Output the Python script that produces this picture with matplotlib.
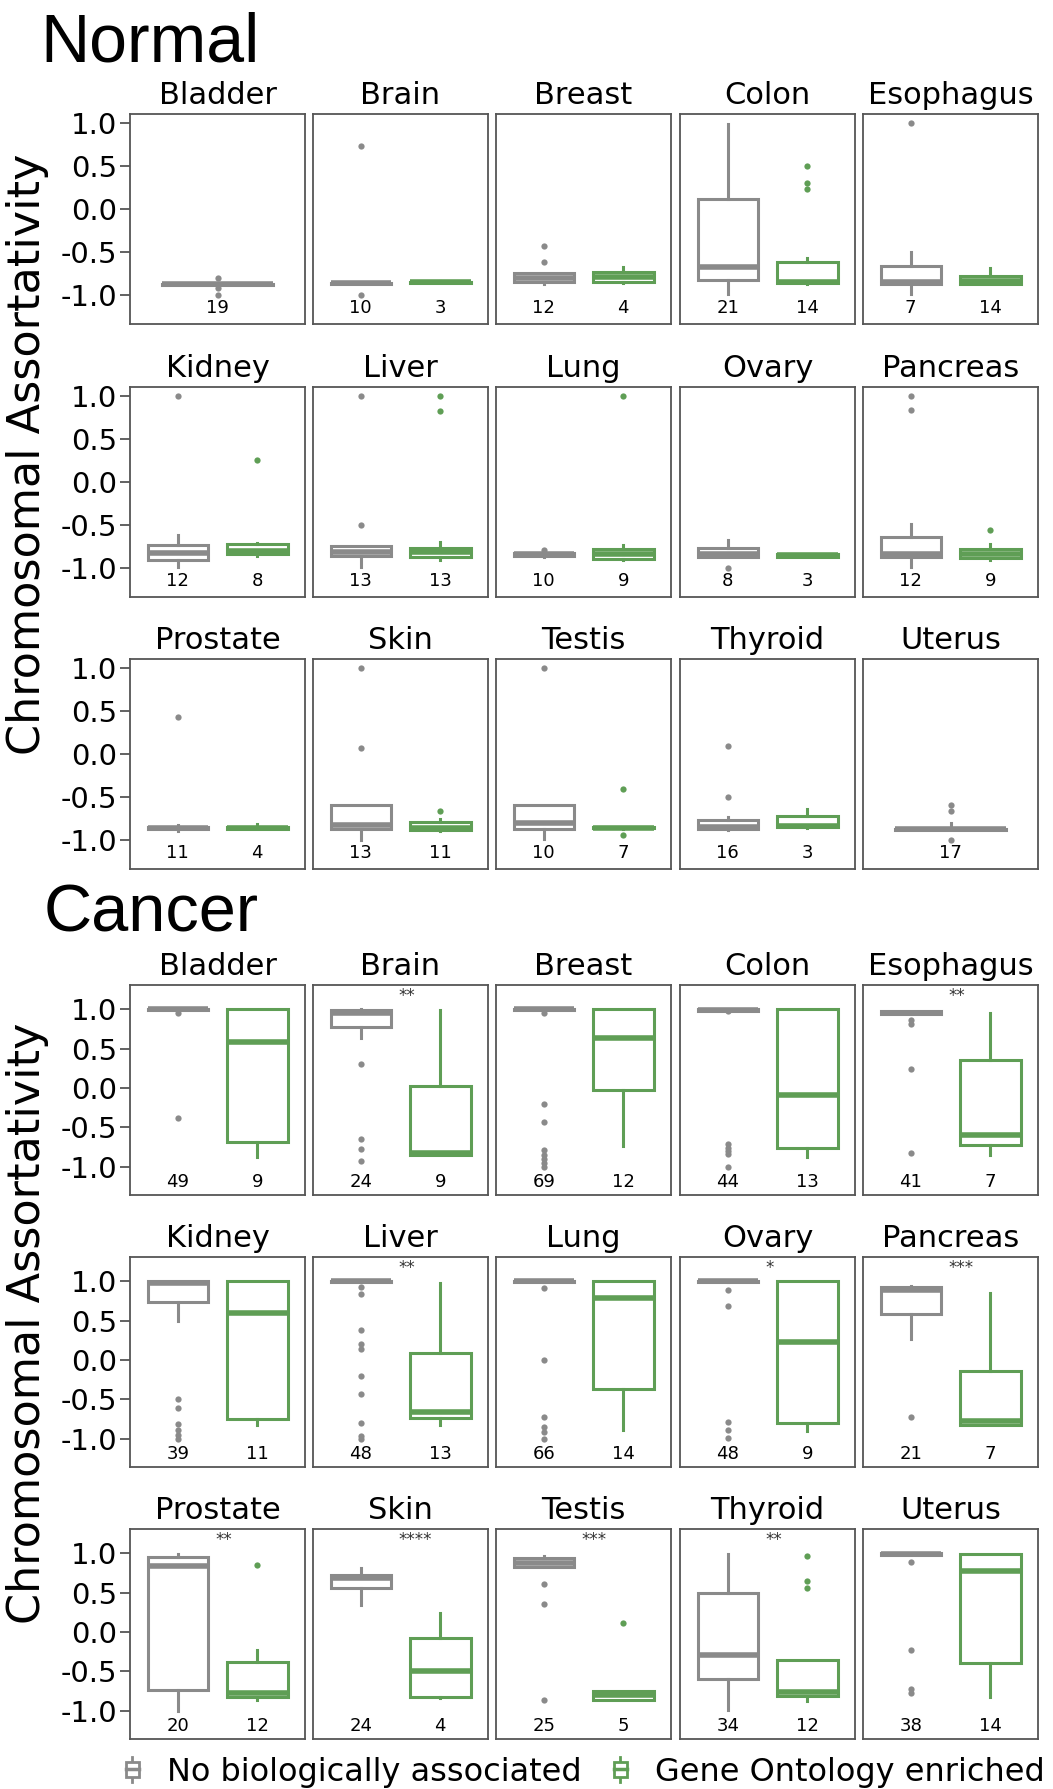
import matplotlib
matplotlib.use("Agg")
import matplotlib.pyplot as plt
from matplotlib.patches import Patch, Rectangle
from matplotlib.lines import Line2D
from matplotlib.legend_handler import HandlerBase

plt.rcParams["font.family"] = ["DejaVu Sans"]
plt.rcParams["axes.unicode_minus"] = False

GRAY = "#8a8a8a"
GREEN = "#5f9e55"

tissues = ["Bladder", "Brain", "Breast", "Colon", "Esophagus",
           "Kidney", "Liver", "Lung", "Ovary", "Pancreas",
           "Prostate", "Skin", "Testis", "Thyroid", "Uterus"]
groups = ["No biologically associated", "Gene Ontology enriched"]

# box stats: (whislo, q1, median, q3, whishi)
normal_gray_box = [
    (-0.89, -0.89, -0.88, -0.87, -0.87), (-0.88, -0.875, -0.868, -0.86, -0.855),
    (-0.875, -0.85, -0.81, -0.75, -0.75), (-0.99, -0.83, -0.68, 0.11, 0.99),
    (-0.99, -0.875, -0.855, -0.66, -0.505), (-0.99, -0.91, -0.83, -0.74, -0.62),
    (-0.99, -0.86, -0.82, -0.75, -0.75), (-0.875, -0.86, -0.845, -0.83, -0.81),
    (-0.875, -0.875, -0.845, -0.77, -0.68), (-0.99, -0.875, -0.84, -0.64, -0.49),
    (-0.90, -0.88, -0.865, -0.85, -0.83), (-1.0, -0.87, -0.83, -0.595, -0.595),
    (-0.99, -0.87, -0.81, -0.595, -0.595), (-0.89, -0.88, -0.85, -0.775, -0.74),
    (-0.89, -0.89, -0.88, -0.87, -0.81)]
normal_gray_fliers = [[-0.80, -0.92, -1.0], [0.73, -1.0], [-0.43, -0.62], [], [1.0],
                      [1.0], [1.0, -0.5], [-0.79], [-1.0], [1.0, 0.84],
                      [0.43], [1.0, 0.07], [1.0], [0.09, -0.5], [-0.59, -0.665, -1.0]]
normal_gray_n = [19, 10, 12, 21, 7, 12, 13, 10, 8, 12, 11, 13, 10, 16, 17]

normal_green_box = [
    None, (-0.865, -0.86, -0.855, -0.85, -0.845),
    (-0.86, -0.85, -0.79, -0.73, -0.68), (-0.88, -0.86, -0.855, -0.62, -0.575),
    (-0.88, -0.87, -0.84, -0.78, -0.69), (-0.86, -0.84, -0.80, -0.72, -0.715),
    (-0.91, -0.87, -0.82, -0.77, -0.70), (-0.91, -0.90, -0.845, -0.78, -0.74),
    (-0.875, -0.87, -0.855, -0.845, -0.84), (-0.91, -0.89, -0.84, -0.78, -0.72),
    (-0.88, -0.875, -0.865, -0.855, -0.82), (-0.90, -0.89, -0.86, -0.79, -0.76),
    (-0.87, -0.865, -0.86, -0.855, -0.85), (-0.86, -0.85, -0.84, -0.72, -0.645),
    None]
normal_green_fliers = [[], [], [], [0.5, 0.3, 0.23], [],
                       [0.25], [1.0, 0.83], [1.0], [], [-0.56],
                       [], [-0.665], [-0.41, -0.94], [], []]
normal_green_n = [None, 3, 4, 14, 14, 8, 13, 9, 3, 9, 4, 11, 7, 3, None]

cancer_gray_box = [
    (1.0, 0.985, 1.0, 1.0, 1.0), (0.64, 0.775, 0.95, 0.99, 1.0),
    (1.0, 0.985, 1.0, 1.0, 1.0), (0.98, 0.98, 0.99, 1.0, 1.0),
    (0.94, 0.94, 0.955, 0.97, 0.97), (0.50, 0.73, 0.97, 1.0, 1.0),
    (1.0, 0.99, 1.0, 1.0, 1.0), (1.0, 0.99, 1.0, 1.0, 1.0),
    (1.0, 0.99, 1.0, 1.0, 1.0), (0.27, 0.58, 0.885, 0.92, 0.94),
    (-1.0, -0.74, 0.84, 0.95, 0.99), (0.34, 0.56, 0.68, 0.72, 0.81),
    (0.83, 0.83, 0.88, 0.94, 0.96), (-0.99, -0.60, -0.29, 0.50, 0.99),
    (0.97, 0.97, 0.99, 1.0, 1.0)]
cancer_gray_fliers = [
    [0.95, -0.385], [0.30, -0.65, -0.775, -0.93],
    [0.95, -0.2, -0.43, -0.79, -0.85, -0.90, -0.945, -1.0],
    [0.97, -0.71, -0.755, -0.80, -0.84, -1.0], [0.86, 0.81, 0.245, -0.82],
    [-0.50, -0.61, -0.81, -0.89, -0.95, -1.0],
    [0.92, 0.84, 0.385, 0.20, 0.14, -0.20, -0.43, -0.80, -0.96, -1.0],
    [0.91, 0.0, -0.72, -0.85, -0.91, -1.0], [0.89, 0.68, -0.79, -0.89, -0.99],
    [-0.72], [], [], [0.61, 0.36, -0.86], [], [0.89, -0.23, -0.72, -0.78]]
cancer_gray_n = [49, 24, 69, 44, 41, 39, 48, 66, 48, 21, 20, 24, 25, 34, 38]

cancer_green_box = [
    (-0.87, -0.68, 0.58, 1.0, 1.0), (-0.85, -0.85, -0.82, 0.023, 0.99),
    (-0.74, -0.03, 0.63, 1.0, 1.0), (-0.87, -0.76, -0.095, 1.0, 1.0),
    (-0.85, -0.72, -0.60, 0.35, 0.95), (-0.83, -0.75, 0.59, 1.0, 1.0),
    (-0.83, -0.73, -0.66, 0.09, 0.98), (-0.885, -0.37, 0.78, 1.0, 1.0),
    (-0.90, -0.80, 0.23, 1.0, 1.0), (-0.83, -0.83, -0.77, -0.14, 0.85),
    (-0.86, -0.82, -0.77, -0.385, -0.23), (-0.84, -0.82, -0.50, -0.08, 0.24),
    (-0.86, -0.86, -0.80, -0.75, -0.75), (-0.87, -0.81, -0.76, -0.355, -0.355),
    (-0.83, -0.39, 0.77, 0.99, 0.99)]
cancer_green_fliers = [[], [], [], [], [], [], [], [], [], [],
                       [0.85], [], [0.11], [0.96, 0.65, 0.555], []]
cancer_green_n = [9, 9, 12, 13, 7, 11, 13, 14, 9, 7, 12, 4, 5, 12, 14]
cancer_stars = ["", "**", "", "", "**", "", "**", "", "*", "***",
                "**", "****", "***", "**", ""]

W, H = 1053, 1789
col_left = [130, 313, 496, 680, 863]
panel_w, panel_h = 175, 210
normal_tops = [114, 387, 659]
cancer_tops = [985, 1257, 1529]


def stats(box, fliers):
    lo, q1, med, q3, hi = box
    return [dict(whislo=lo, q1=q1, med=med, q3=q3, whishi=hi, fliers=fliers)]


def draw_box(ax, pos, box, fliers, color):
    ax.bxp(stats(box, fliers), positions=[pos], widths=0.76, patch_artist=True,
           showcaps=False, manage_ticks=False,
           boxprops=dict(facecolor="white", edgecolor=color, linewidth=2.2),
           medianprops=dict(color=color, linewidth=4),
           whiskerprops=dict(color=color, linewidth=2.2),
           flierprops=dict(marker="o", markersize=4.5, markerfacecolor=color,
                           markeredgecolor="none"))


def panel(top, col, ylim):
    ax = fig.add_axes([col_left[col] / W, 1 - (top + panel_h) / H, panel_w / W, panel_h / H])
    ax.set_ylim(*ylim)
    ax.set_yticks([-1.0, -0.5, 0.0, 0.5, 1.0])
    for s in ax.spines.values():
        s.set_color("#555555")
        s.set_linewidth(1.3)
    if col == 0:
        ax.tick_params(axis="y", labelsize=21, length=7, width=1.3, color="#555555", pad=2)
        ax.set_yticklabels(["-1.0", "-0.5", "0.0", "0.5", "1.0"])
    else:
        ax.tick_params(axis="y", left=False, labelleft=False)
    return ax


def draw_section(tops, gray_box, gray_fl, gray_n, green_box, green_fl, green_n,
                 ylim, count_y, stars=None):
    for i, t in enumerate(tissues):
        ax = panel(tops[i // 5], i % 5, ylim)
        ax.set_title(t, fontsize=22, pad=7)
        tr = ax.get_xaxis_transform()
        if green_box[i] is None:
            ax.set_xlim(-0.6, 0.6)
            draw_box(ax, 0, gray_box[i], gray_fl[i], GRAY)
            ax.text(0, count_y, str(gray_n[i]), transform=tr, ha="center", va="center", fontsize=13)
        else:
            ax.set_xlim(-0.6, 1.6)
            draw_box(ax, 0, gray_box[i], gray_fl[i], GRAY)
            draw_box(ax, 1, green_box[i], green_fl[i], GREEN)
            ax.text(0, count_y, str(gray_n[i]), transform=tr, ha="center", va="center", fontsize=13)
            ax.text(1, count_y, str(green_n[i]), transform=tr, ha="center", va="center", fontsize=13)
        ax.set_xticks([])
        if stars and stars[i]:
            ax.text(0.49, 0.99, stars[i], transform=ax.transAxes, ha="left", va="top",
                    fontsize=12, color="#333333")


class BoxIcon(HandlerBase):
    def create_artists(self, legend, orig_handle, xdescent, ydescent, width, height,
                       fontsize, trans):
        c = orig_handle.get_edgecolor()
        cx = -xdescent + width / 2
        y0 = -ydescent
        bw = width * 0.75
        rect = Rectangle((cx - bw / 2, y0 + height * 0.22), bw, height * 0.56,
                         facecolor="white", edgecolor=c, lw=2, transform=trans)
        med = Line2D([cx - bw / 2, cx + bw / 2], [y0 + height * 0.5] * 2, color=c, lw=2.5,
                     transform=trans)
        w1 = Line2D([cx, cx], [y0, y0 + height * 0.22], color=c, lw=2, transform=trans)
        w2 = Line2D([cx, cx], [y0 + height * 0.78, y0 + height], color=c, lw=2, transform=trans)
        return [w1, w2, rect, med]


fig = plt.figure(figsize=(W / 100, H / 100), dpi=100)

draw_section(normal_tops, normal_gray_box, normal_gray_fliers, normal_gray_n,
             normal_green_box, normal_green_fliers, normal_green_n,
             (-1.34, 1.105), 0.078)
draw_section(cancer_tops, cancer_gray_box, cancer_gray_fliers, cancer_gray_n,
             cancer_green_box, cancer_green_fliers, cancer_green_n,
             (-1.357, 1.306), 0.06, cancer_stars)

fig.text(40 / W, 1 - 62 / H, "Normal", fontsize=49, family="Liberation Sans", va="baseline")
fig.text(44 / W, 1 - 932 / H, "Cancer", fontsize=48, family="Liberation Sans", va="baseline")
fig.text(28 / W, 1 - 454 / H, "Chromosomal Assortativity", rotation=90, fontsize=32,
         ha="center", va="center")
fig.text(28 / W, 1 - 1323 / H, "Chromosomal Assortativity", rotation=90, fontsize=32,
         ha="center", va="center")

handles = [Patch(facecolor="white", edgecolor=GRAY), Patch(facecolor="white", edgecolor=GREEN)]
fig.legend(handles, groups, loc="center", bbox_to_anchor=(584 / W, 1 - 1772 / H), ncol=2,
           frameon=False, fontsize=23, handler_map={Patch: BoxIcon()},
           handlelength=0.55, handleheight=0.85, handletextpad=0.8, columnspacing=0.95)

fig.savefig("out.png", dpi=100)
